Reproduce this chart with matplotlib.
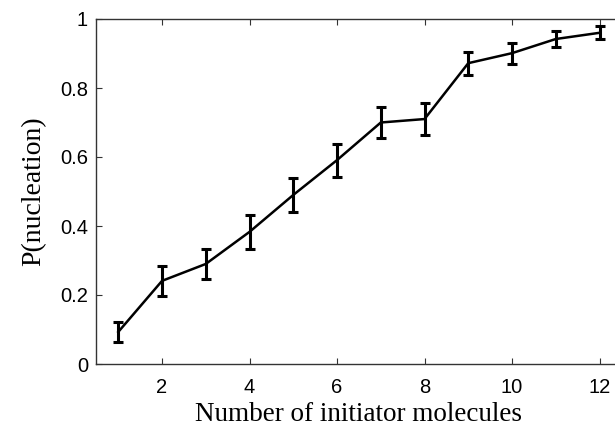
import matplotlib
matplotlib.use("Agg")
import matplotlib.pyplot as plt

n_initiators = [1, 2, 3, 4, 5, 6, 7, 8, 9, 10, 11, 12]
p_nucleation = [0.093, 0.241, 0.29, 0.383, 0.49, 0.591, 0.70, 0.71, 0.872, 0.901, 0.942, 0.96]
p_error = [0.029, 0.043, 0.043, 0.049, 0.049, 0.048, 0.045, 0.046, 0.033, 0.03, 0.023, 0.019]
x_ticks = [2, 4, 6, 8, 10, 12]
y_ticks = [0, 0.2, 0.4, 0.6, 0.8, 1]
y_ticklabels = ["0", "0.2", "0.4", "0.6", "0.8", "1"]

fig = plt.figure(figsize=(6.15, 4.28), dpi=100)
ax = fig.add_axes([96.4 / 615, 64 / 428, 525 / 615, 345 / 428])

ax.errorbar(n_initiators, p_nucleation, yerr=p_error, color="black",
            linewidth=1.8, elinewidth=2.2, capsize=3.6, capthick=2.2)

ax.set_xlim(0.5, 12.5)
ax.set_ylim(0, 1)
ax.set_xticks(x_ticks)
ax.set_xticklabels([str(t) for t in x_ticks], family="Liberation Sans", fontsize=14.5)
ax.set_yticks(y_ticks)
ax.set_yticklabels(y_ticklabels, family="Liberation Sans", fontsize=14.5)
ax.tick_params(direction="in", length=4, width=0.8, top=True, right=True,
               colors="#333333", labelcolor="black")
ax.tick_params(axis="x", pad=10)
ax.tick_params(axis="y", pad=6)
for s in ax.spines.values():
    s.set_color("#333333")
    s.set_linewidth(1.0)

ax.set_xlabel("Number of initiator molecules", family="Liberation Serif", fontsize=19.5, labelpad=4)
ax.set_ylabel("P(nucleation)", family="Liberation Serif", fontsize=20, labelpad=10)

fig.savefig("out.png", dpi=100)
